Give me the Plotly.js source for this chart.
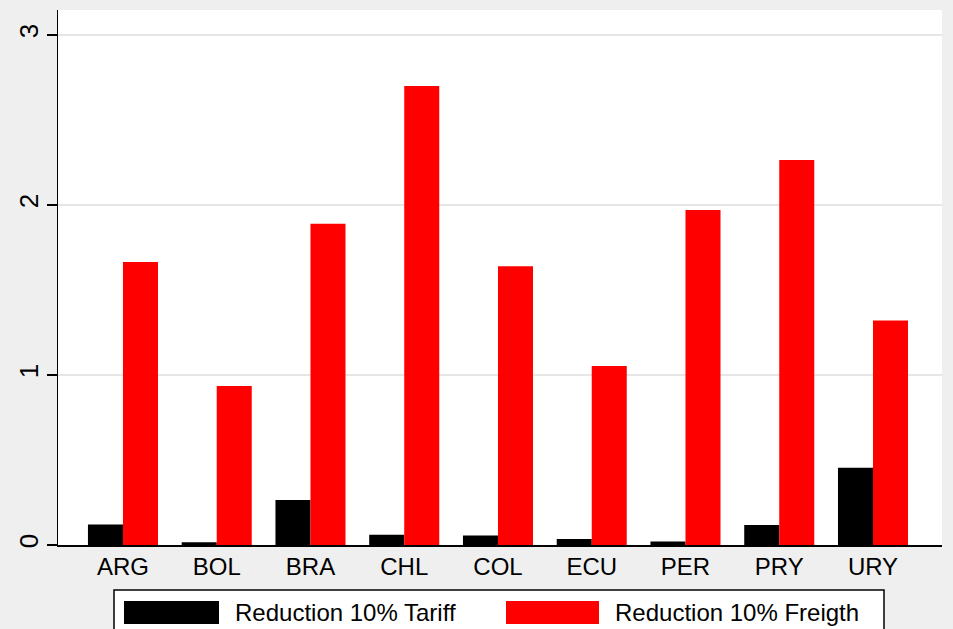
<!DOCTYPE html>
<html>
<head>
<meta charset="utf-8">
<script src="https://cdn.plot.ly/plotly-3.0.1.min.js"></script>
<style>html,body{margin:0;padding:0;background:#efefef;}#chart{width:953px;height:629px;}</style>
</head>
<body>
<div id="chart"></div>
<script>
var countries = ["ARG","BOL","BRA","CHL","COL","ECU","PER","PRY","URY"];
var tariffName = "Reduction 10% Tariff";
var freightName = "Reduction 10% Freigth";
var tariffValues = [0.12, 0.016, 0.265, 0.06, 0.056, 0.035, 0.02, 0.118, 0.455];
var freightValues = [1.665, 0.935, 1.89, 2.70, 1.64, 1.053, 1.97, 2.265, 1.32];
var yTicks = [0, 1, 2, 3];

var FONT = "Liberation Sans, Arial, sans-serif";
var W = 953, H = 629, L = 58, R = 11, T = 10, B = 84;
var pw = W - L - R, ph = H - T - B;
function px(x){ return (x - L) / pw; }
function py(y){ return (H - B - y) / ph; }

var traces = [
  {type: "bar", x: countries, y: tariffValues, name: tariffName,
   marker: {color: "#000000", line: {width: 0}}, showlegend: false, hoverinfo: "x+y"},
  {type: "bar", x: countries, y: freightValues, name: freightName,
   marker: {color: "#ff0000", line: {width: 0}}, showlegend: false, hoverinfo: "x+y"}
];

var shapes = [
  {type: "rect", xref: "paper", yref: "paper", x0: px(114), x1: px(884), y0: py(660), y1: py(590),
   line: {color: "#000000", width: 1.5}, fillcolor: "#ffffff", layer: "above"},
  {type: "rect", xref: "paper", yref: "paper", x0: px(124), x1: px(219), y0: py(624), y1: py(601),
   line: {width: 0}, fillcolor: "#000000", layer: "above"},
  {type: "rect", xref: "paper", yref: "paper", x0: px(506), x1: px(599), y0: py(624), y1: py(601),
   line: {width: 0}, fillcolor: "#ff0000", layer: "above"}
];

var annotations = [
  {xref: "paper", yref: "paper", x: px(233), y: py(612), xanchor: "left", yanchor: "middle",
   text: tariffName, showarrow: false, font: {family: FONT, size: 24, color: "#000000"}},
  {xref: "paper", yref: "paper", x: px(613), y: py(612), xanchor: "left", yanchor: "middle",
   text: freightName, showarrow: false, font: {family: FONT, size: 24, color: "#000000"}}
];

var layout = {
  width: W, height: H,
  paper_bgcolor: "#efefef", plot_bgcolor: "#ffffff",
  margin: {l: L, r: R, t: T, b: B, pad: 0},
  barmode: "group", bargap: 0.253, bargroupgap: 0,
  font: {family: FONT, size: 24, color: "#000000"},
  xaxis: {
    type: "category", range: [-0.693, 8.736],
    showline: true, linecolor: "#000000", linewidth: 1.5,
    ticks: "", showgrid: false, zeroline: false,
    tickfont: {family: FONT, size: 24, color: "#000000"},
    ticklabelstandoff: 0
  },
  yaxis: {
    range: [0, 3.147], tickvals: yTicks, ticktext: yTicks.map(String),
    showline: true, linecolor: "#000000", linewidth: 1.5,
    ticks: "outside", ticklen: 10, tickwidth: 1.5, tickcolor: "#000000",
    tickangle: -90, showgrid: true, gridcolor: "#e6e6e6", gridwidth: 1.5,
    zeroline: false,
    tickfont: {family: FONT, size: 26, color: "#000000"},
    ticklabelstandoff: -2
  },
  shapes: shapes,
  annotations: annotations,
  showlegend: false
};

Plotly.newPlot("chart", traces, layout, {displayModeBar: false, staticPlot: true});
</script>
</body>
</html>
